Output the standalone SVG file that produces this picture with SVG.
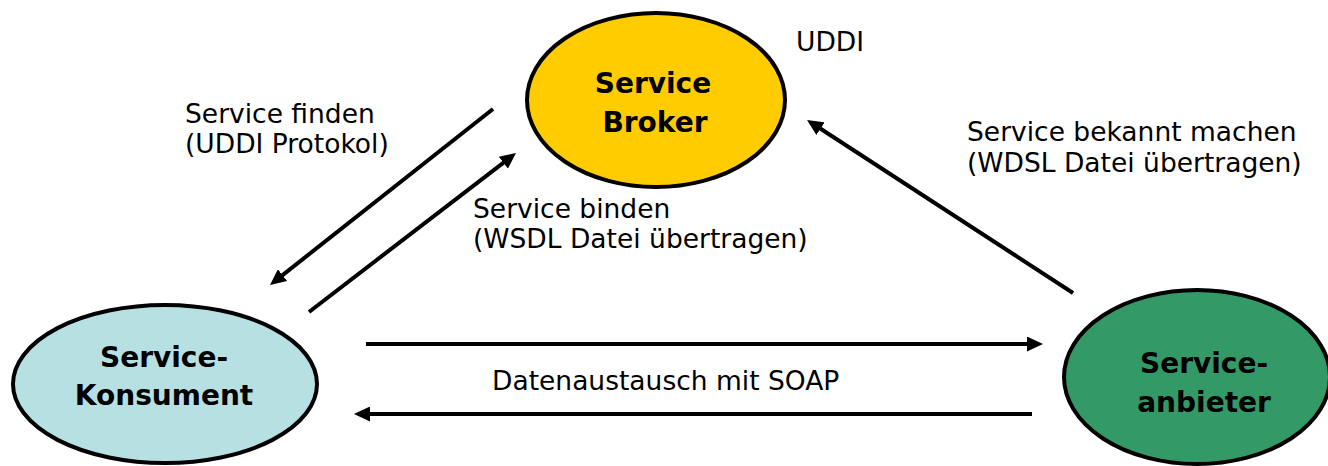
<svg xmlns="http://www.w3.org/2000/svg" width="1328" height="466" viewBox="0 0 1328 466">
<style>
.node{stroke:#000;stroke-width:4}
.ntxt{font-family:"DejaVu Sans",Verdana,sans-serif;font-weight:bold;font-size:28px;fill:#000;text-anchor:middle}
.lbl{font-family:"DejaVu Sans",Verdana,sans-serif;font-size:26.5px;fill:#000}
.con{stroke:#000;stroke-width:4;fill:none;marker-end:url(#ah)}
</style>
<defs>
<marker id="ah" markerUnits="userSpaceOnUse" markerWidth="16" markerHeight="15" refX="4" refY="7.5" orient="auto">
<path d="M0,0 L16,7.5 L0,15 z" fill="#000"/>
</marker>
</defs>
<rect width="1328" height="466" fill="#fff"/>
<g id="connectors">
<line class="con" x1="493" y1="109" x2="279.4" y2="277.6"/>
<line class="con" x1="309" y1="312" x2="506.5" y2="160.3"/>
<line class="con" x1="1073" y1="293" x2="817.1" y2="126.5"/>
<line class="con" x1="366" y1="344" x2="1031" y2="344"/>
<line class="con" x1="1032" y1="414" x2="366" y2="414"/>
</g>
<g id="broker">
<ellipse class="node" cx="656" cy="100" rx="129" ry="87" fill="#FFCC00"/>
<text class="ntxt" x="653" y="93">Service</text>
<text class="ntxt" x="655" y="132">Broker</text>
</g>
<g id="konsument">
<ellipse class="node" cx="165" cy="384" rx="152" ry="79" fill="#B7E0E3"/>
<text class="ntxt" x="164" y="367">Service-</text>
<text class="ntxt" x="164" y="405">Konsument</text>
</g>
<g id="anbieter">
<ellipse class="node" cx="1197" cy="377" rx="133" ry="87" fill="#339966"/>
<text class="ntxt" x="1204" y="373">Service-</text>
<text class="ntxt" x="1204" y="412">anbieter</text>
</g>
<g id="labels">
<text class="lbl" x="796" y="51">UDDI</text>
<text class="lbl" x="185" y="123">Service finden</text>
<text class="lbl" x="185" y="153">(UDDI Protokol)</text>
<text class="lbl" x="473" y="218">Service binden</text>
<text class="lbl" x="473" y="248">(WSDL Datei übertragen)</text>
<text class="lbl" x="967" y="141">Service bekannt machen</text>
<text class="lbl" x="967" y="172">(WDSL Datei übertragen)</text>
<text class="lbl" x="492" y="390">Datenaustausch mit SOAP</text>
</g>
</svg>
